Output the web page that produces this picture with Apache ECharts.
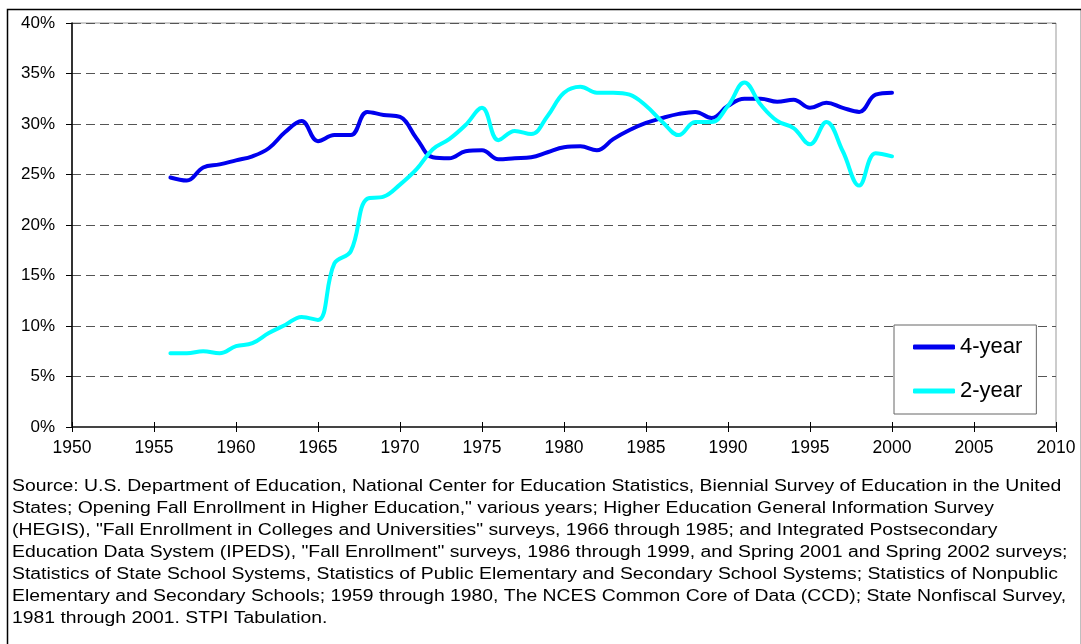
<!DOCTYPE html>
<html>
<head>
<meta charset="utf-8">
<script src="https://cdn.jsdelivr.net/npm/echarts@6/dist/echarts.min.js"></script>
<style>
  html, body { margin: 0; padding: 0; background: #fff; }
  #chart { width: 1081px; height: 644px; }
</style>
</head>
<body>
<div id="chart"></div>
<script>
// years 1956..2000, share of enrollment (%)
const years = [1956, 1957, 1958, 1959, 1960, 1961, 1962, 1963, 1964, 1965,
  1966, 1967, 1968, 1969, 1970, 1971, 1972, 1973, 1974, 1975,
  1976, 1977, 1978, 1979, 1980, 1981, 1982, 1983, 1984, 1985,
  1986, 1987, 1988, 1989, 1990, 1991, 1992, 1993, 1994, 1995,
  1996, 1997, 1998, 1999, 2000];

const fourYear = [24.7, 24.4, 25.7, 26.0, 26.4, 26.8, 27.6, 29.2, 30.3, 28.3,
  28.9, 28.9, 31.2, 30.9, 30.7, 28.6, 26.7, 26.6, 27.3, 27.4,
  26.5, 26.6, 26.7, 27.2, 27.7, 27.8, 27.4, 28.5, 29.4, 30.1,
  30.6, 31.0, 31.2, 30.6, 31.8, 32.5, 32.5, 32.2, 32.4, 31.6,
  32.1, 31.6, 31.2, 32.9, 33.1];

const twoYear = [7.3, 7.3, 7.5, 7.3, 8.0, 8.3, 9.3, 10.1, 10.9, 10.6,
  16.2, 17.4, 22.6, 22.8, 24.0, 25.5, 27.5, 28.5, 29.9, 31.6,
  28.4, 29.3, 29.0, 30.8, 33.1, 33.7, 33.1, 33.1, 32.9, 31.8,
  30.2, 28.9, 30.2, 30.2, 31.8, 34.1, 31.9, 30.3, 29.6, 28.0,
  30.2, 27.3, 23.9, 27.1, 26.8];

const sourceLines = [
  'Source: U.S. Department of Education, National Center for Education Statistics, Biennial Survey of Education in the United',
  'States; Opening Fall Enrollment in Higher Education," various years; Higher Education General Information Survey',
  '(HEGIS), "Fall Enrollment in Colleges and Universities" surveys, 1966 through 1985; and Integrated Postsecondary',
  'Education Data System (IPEDS), "Fall Enrollment" surveys, 1986 through 1999, and Spring 2001 and Spring 2002 surveys;',
  'Statistics of State School Systems, Statistics of Public Elementary and Secondary School Systems; Statistics of Nonpublic',
  'Elementary and Secondary Schools; 1959 through 1980, The NCES Common Core of Data (CCD); State Nonfiscal Survey,',
  '1981 through 2001. STPI Tabulation.'
];

const pairs = (vals) => years.map((y, i) => [y, vals[i]]);

const font = 'Arial, "Liberation Sans", sans-serif';
const chart = echarts.init(document.getElementById('chart'));

chart.setOption({
  animation: false,
  grid: {
    left: 72, top: 23, right: 25, bottom: 217,
    show: true, borderColor: '#999', borderWidth: 1, backgroundColor: '#fff'
  },
  legend: {
    orient: 'vertical',
    left: 894, top: 325,
    padding: [11, 14, 12, 19],
    itemGap: 22,
    icon: 'roundRect',
    itemWidth: 42, itemHeight: 5,
    backgroundColor: '#fff',
    borderColor: '#666', borderWidth: 1,
    textStyle: { fontFamily: font, fontSize: 22, color: '#000', padding: [0, 0, 0, 0] },
    data: ['4-year', '2-year']
  },
  xAxis: [
    {
      type: 'value', min: 1950, max: 2010, interval: 5,
      axisLine: { lineStyle: { color: '#444', width: 2 } },
      axisTick: { show: true, length: 5, lineStyle: { color: '#000', width: 1 } },
      axisLabel: { margin: 12, fontFamily: font, fontSize: 17.5, color: '#000', formatter: (v) => String(v) },
      splitLine: { show: false }
    },
    {
      type: 'value', min: 1950, max: 2010, interval: 5, position: 'bottom', offset: 0,
      axisLine: { show: false },
      axisTick: { show: true, inside: true, length: 5, lineStyle: { color: '#000', width: 1 } },
      axisLabel: { show: false },
      splitLine: { show: false }
    }
  ],
  yAxis: {
    type: 'value', min: 0, max: 40, interval: 5,
    axisLine: { show: true, lineStyle: { color: '#000', width: 1.5 } },
    axisTick: { show: true, length: 6, lineStyle: { color: '#000' } },
    axisLabel: { margin: 17, fontFamily: font, fontSize: 17, color: '#000', formatter: '{value}%' },
    splitLine: { show: true, lineStyle: { color: '#555', type: [9, 5], width: 1 } }
  },
  series: [
    {
      name: '4-year', type: 'line', smooth: 0.4, symbol: 'none',
      lineStyle: { color: '#0000EE', width: 4, cap: 'round' },
      itemStyle: { color: '#0000EE' },
      data: pairs(fourYear)
    },
    {
      name: '2-year', type: 'line', smooth: 0.4, symbol: 'none',
      lineStyle: { color: '#00FFFF', width: 4, cap: 'round' },
      itemStyle: { color: '#00FFFF' },
      data: pairs(twoYear)
    }
  ],
  graphic: [
    {
      type: 'rect', left: 5, top: 7, silent: true, z: -10,
      shape: { width: 1074, height: 660 },
      style: { fill: 'none', stroke: '#000', lineWidth: 1.5 }
    },
    {
      type: 'text', x: 12, y: 476, scaleX: 1.21,
      style: {
        text: sourceLines.join('\n'),
        fontFamily: font, fontSize: 16, lineHeight: 22, fill: '#000'
      }
    }
  ]
});
</script>
</body>
</html>
